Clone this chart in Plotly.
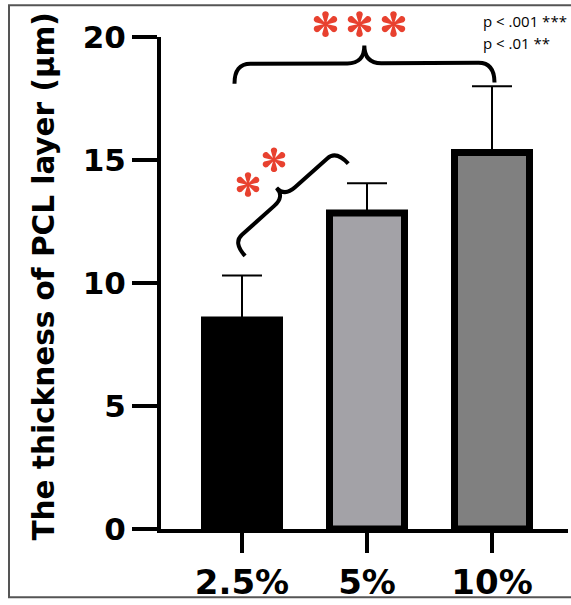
import math
import plotly.graph_objects as go

# Layer thickness per PCL concentration (mean and upper SD)
groups = ["2.5%", "5%", "10%"]
means = [8.5, 12.85, 15.3]
sd = [1.8, 1.2, 2.7]
fills = ["#000000", "#A3A2A7", "#808080"]
y_ticks = [0, 5, 10, 15, 20]

FIG_W, FIG_H = 571, 605
L, R, T, B = 161, 568, 37, 534          # plot area edges in pixels
X0, X1 = -0.648, 2.608
Y0, Y1 = 0, 20
STAR_RED = "#E8412F"
BOLD = "DejaVu Sans"


def xpix(x):
    return L + (x - X0) / (X1 - X0) * (R - L)


def ypix(y):
    return B - (y - Y0) / (Y1 - Y0) * (B - T)


def paper(px, py):
    return (px - L) / (R - L), (B - py) / (B - T)


def fmt(px, py):
    x, y = paper(px, py)
    return f"{x:.5f},{y:.5f}"


def brace_path(p0, p1, a, b, r, rc):
    """Curly brace from p0 to p1 (pixels), bulging to the left of p0->p1."""
    dx, dy = p1[0] - p0[0], p1[1] - p0[1]
    n = math.hypot(dx, dy)
    ux, uy = dx / n, dy / n
    nx, ny = uy, -ux

    def pt(s, t):
        return fmt(p0[0] + s * ux + t * nx, p0[1] + s * uy + t * ny)

    m = n / 2
    return (f"M{pt(0, 0)} Q{pt(0, a)} {pt(r, a)} L{pt(m - rc, a)} "
            f"Q{pt(m, a)} {pt(m, b)} Q{pt(m, a)} {pt(m + rc, a)} "
            f"L{pt(n - r, a)} Q{pt(n, a)} {pt(n, 0)}")


def star_path(cx, cy, rad, w_tip, r_in):
    """Six-armed asterisk outline with rounded, flared arms."""
    def polar(ang_deg, s, t=0.0):
        a = math.radians(ang_deg)
        ux, uy = math.cos(a), -math.sin(a)
        vx, vy = -uy, ux
        return fmt(cx + s * ux + t * vx, cy + s * uy + t * vy)

    e = rad - w_tip
    k = 1.33 * w_tip
    cmds = []
    for i in range(6):
        ang = 90 + 60 * i
        start = polar(ang - 30, r_in)
        cmds.append(("M" if i == 0 else "L") + start)
        cmds.append("L" + polar(ang, e, w_tip))
        cmds.append("C" + polar(ang, e + k, w_tip) + " "
                    + polar(ang, e + k, -w_tip) + " "
                    + polar(ang, e, -w_tip))
    cmds.append("Z")
    return " ".join(cmds)


upper = [m + s for m, s in zip(means, sd)]

fig = go.Figure()
fig.add_trace(go.Bar(
    x=[0, 1, 2], y=means, width=0.6,
    marker=dict(color=fills, line=dict(color="black", width=7)),
    error_y=dict(type="data", symmetric=False, array=sd,
                 arrayminus=[0] * len(sd), color="black",
                 thickness=2, width=20),
    showlegend=False,
))

shapes = []
# frame around the figure
fx0, fy0 = paper(9, 603)
fx1, fy1 = paper(576, 5)
shapes.append(dict(type="rect", xref="paper", yref="paper",
                   x0=fx0, y0=fy0, x1=fx1, y1=fy1,
                   line=dict(color="#555555", width=2), layer="below"))

# brace spanning 2.5% .. 10%
big0 = (xpix(-0.06), ypix(upper[2] + 0.1))
big1 = (xpix(2.02), ypix(upper[2] + 0.15))
shapes.append(dict(type="path", xref="paper", yref="paper",
                   path=brace_path(big0, big1, 20, 38, 16, 17),
                   line=dict(color="black", width=4)))

# tilted brace spanning 2.5% .. 5%
sm0 = (xpix(0.025), ypix(upper[0] + 0.8))
sm1 = (xpix(0.85), ypix(upper[1] + 0.8))
shapes.append(dict(type="path", xref="paper", yref="paper",
                   path=brace_path(sm0, sm1, 18, 30, 12, 14),
                   line=dict(color="black", width=4)))

# red significance stars
big_mid = (big0[0] + big1[0]) / 2
for dx in (-34, 0, 34):
    shapes.append(dict(type="path", xref="paper", yref="paper",
                       path=star_path(big_mid - 5 + dx, 24, 13, 3.3, 2.2),
                       fillcolor=STAR_RED, line=dict(width=0)))
for cx, cy in ((248, 186), (274, 161)):
    shapes.append(dict(type="path", xref="paper", yref="paper",
                       path=star_path(cx, cy, 12.5, 3.2, 2.1),
                       fillcolor=STAR_RED, line=dict(width=0)))

annotations = []

# y-axis title
tx, ty = paper(44, 279)
annotations.append(dict(
    text="The thickness of PCL layer (µm)", x=tx, y=ty,
    xref="paper", yref="paper", xanchor="center", yanchor="middle",
    textangle=-90, showarrow=False,
    font=dict(family=BOLD, size=29.5, color="black", weight="bold")))

# significance key
for label, py in (("p < .001 ***", 21), ("p < .01 **", 43)):
    kx, ky = paper(481, py)
    annotations.append(dict(
        text=label, x=kx, y=ky, xref="paper", yref="paper",
        xanchor="left", yanchor="middle", showarrow=False,
        font=dict(family="Open Sans", size=15, color="black")))

fig.update_layout(
    width=FIG_W, height=FIG_H,
    margin=dict(l=L, r=FIG_W - R, t=T, b=FIG_H - B, pad=0),
    paper_bgcolor="white", plot_bgcolor="white",
    shapes=shapes, annotations=annotations,
    xaxis=dict(range=[X0, X1], tickvals=[0, 1, 2], ticktext=groups,
               showline=True, linewidth=4, linecolor="black",
               ticks="outside", ticklen=20, tickwidth=4, tickcolor="black",
               showgrid=False, zeroline=False,
               tickfont=dict(family=BOLD, size=34, color="black",
                             weight="bold")),
    yaxis=dict(range=[Y0, Y1], tickvals=y_ticks,
               showline=True, linewidth=4, linecolor="black",
               ticks="outside", ticklen=25, tickwidth=4, tickcolor="black",
               showgrid=False, zeroline=False,
               tickfont=dict(family=BOLD, size=31, color="black",
                             weight="bold")),
)

fig.write_html("out.html")
